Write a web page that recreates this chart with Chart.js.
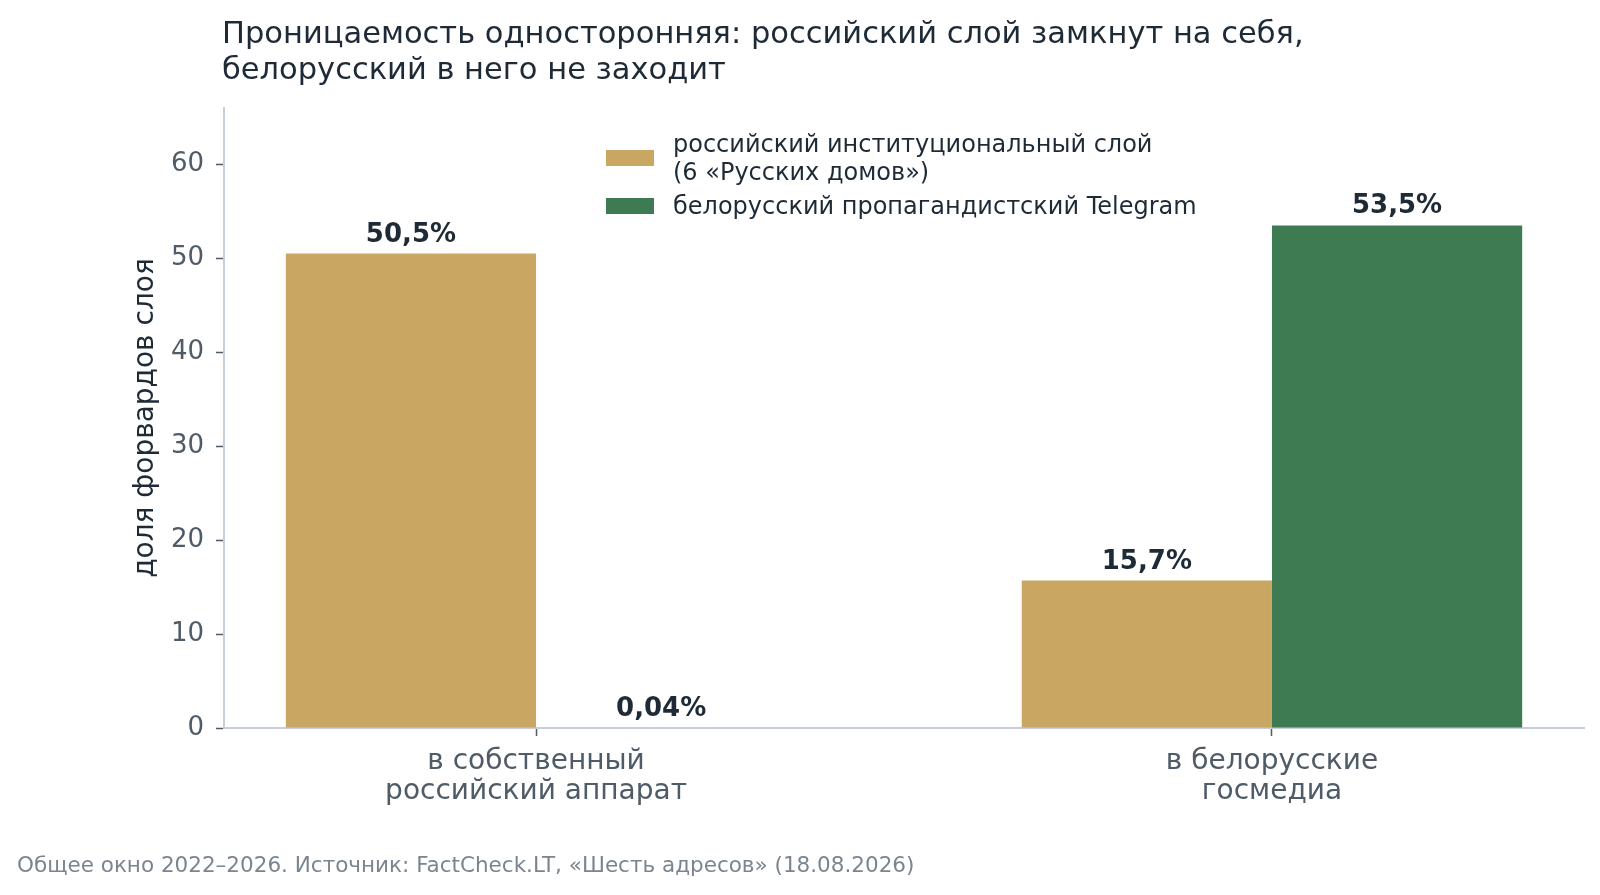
<!DOCTYPE html>
<html>
<head>
<meta charset="utf-8">
<script src="https://cdn.jsdelivr.net/npm/chart.js@4.4.1/dist/chart.umd.min.js"></script>
<style>
  html, body { margin: 0; padding: 0; background: #fff; overflow: hidden; }
  canvas { display: block; }
</style>
</head>
<body>
<canvas id="chart" width="1600" height="895"></canvas>
<script>
// categories and values
const categories = [['в собственный', 'российский аппарат'], ['в белорусские', 'госмедиа']];
const categoryPos = [0, 1];
const russianLayer = [50.5, 15.7];
const belarusLayer = [0.04, 53.5];
const seriesNames = [['российский институциональный слой', '(6 «Русских домов»)'], ['белорусский пропагандистский Telegram']];
const yTicks = [0, 10, 20, 30, 40, 50, 60];

const titleLines = ['Проницаемость односторонняя: российский слой замкнут на себя,', 'белорусский в него не заходит'];
const footerText = 'Общее окно 2022–2026. Источник: FactCheck.LT, «Шесть адресов» (18.08.2026)';

const GOLD = '#c9a762';
const GREEN = '#3f7b52';
const DARK = '#1e2a36';
const GRAY = '#4f5b67';
const AXIS = '#c8ced6';
const FONT = "'DejaVu Sans', sans-serif";

const fmt = v => String(v).replace('.', ',') + '%';

const textPlugin = {
  id: 'textPlugin',
  afterDraw(chart) {
    const ctx = chart.ctx;
    ctx.save();
    // title
    ctx.fillStyle = DARK;
    ctx.font = '30.5px ' + FONT;
    ctx.textAlign = 'left';
    ctx.textBaseline = 'middle';
    titleLines.forEach((t, i) => ctx.fillText(t, 222, 35.5 + i * 35.5));
    // footer
    ctx.fillStyle = '#7b8590';
    ctx.font = '21.5px ' + FONT;
    ctx.fillText(footerText, 17, 866);
    // legend
    const colors = [GOLD, GREEN];
    const rows = [{ y: 158, lines: seriesNames[0] }, { y: 206, lines: seriesNames[1] }];
    ctx.font = '24px ' + FONT;
    rows.forEach((r, i) => {
      ctx.fillStyle = colors[i];
      ctx.fillRect(606, r.y - 8, 48, 16);
      ctx.fillStyle = DARK;
      const lh = 27.6;
      const y0 = r.y - (r.lines.length - 1) * lh / 2 + 1.5;
      r.lines.forEach((l, j) => ctx.fillText(l, 673, y0 + j * lh));
    });
    // value labels
    ctx.font = 'bold 26px ' + FONT;
    ctx.textAlign = 'center';
    ctx.textBaseline = 'alphabetic';
    ctx.fillStyle = DARK;
    chart.data.datasets.forEach((ds, di) => {
      chart.getDatasetMeta(di).data.forEach((el, i) => {
        ctx.fillText(fmt(ds.data[i].y), el.x, el.y - 12);
      });
    });
    ctx.restore();
  }
};

new Chart(document.getElementById('chart'), {
  type: 'bar',
  data: {
    datasets: [{
      label: seriesNames[0].join(' '),
      data: categoryPos.map((x, i) => ({ x: x, y: russianLayer[i] })),
      backgroundColor: GOLD
    }, {
      label: seriesNames[1].join(' '),
      data: categoryPos.map((x, i) => ({ x: x, y: belarusLayer[i] })),
      backgroundColor: GREEN
    }]
  },
  options: {
    responsive: false,
    animation: false,
    devicePixelRatio: 1,
    categoryPercentage: 0.68,
    barPercentage: 1.0,
    layout: { padding: { top: 108, right: 16, left: 0, bottom: 0 } },
    plugins: {
      legend: { display: false },
      tooltip: { enabled: false }
    },
    scales: {
      x: {
        type: 'linear',
        offset: false,
        min: -0.424,
        max: 1.424,
        afterBuildTicks: s => { s.ticks = categoryPos.map(v => ({ value: v })); },
        afterFit: s => { s.height = 167; },
        ticks: {
          callback: (v) => categories[categoryPos.indexOf(v)] || '',
          color: GRAY,
          font: { family: FONT, size: 28, lineHeight: 1.07 },
          padding: 11,
          maxRotation: 0,
          autoSkip: false
        },
        grid: { offset: false, drawOnChartArea: false, drawTicks: true, tickLength: 8, tickColor: GRAY, tickWidth: 1.5 },
        border: { display: true, color: AXIS, width: 2 }
      },
      y: {
        min: 0,
        max: 66,
        afterBuildTicks: s => { s.ticks = yTicks.map(v => ({ value: v })); },
        afterFit: s => { s.width = 224; },
        ticks: {
          color: GRAY,
          font: { family: FONT, size: 26 },
          padding: 12
        },
        title: {
          display: true,
          text: 'доля форвардов слоя',
          color: DARK,
          font: { family: FONT, size: 28 },
          padding: { top: 129, bottom: 0 }
        },
        grid: { drawOnChartArea: false, drawTicks: true, tickLength: 8, tickColor: GRAY, tickWidth: 1.5 },
        border: { display: true, color: AXIS, width: 2 }
      }
    }
  },
  plugins: [textPlugin]
});
</script>
</body>
</html>
